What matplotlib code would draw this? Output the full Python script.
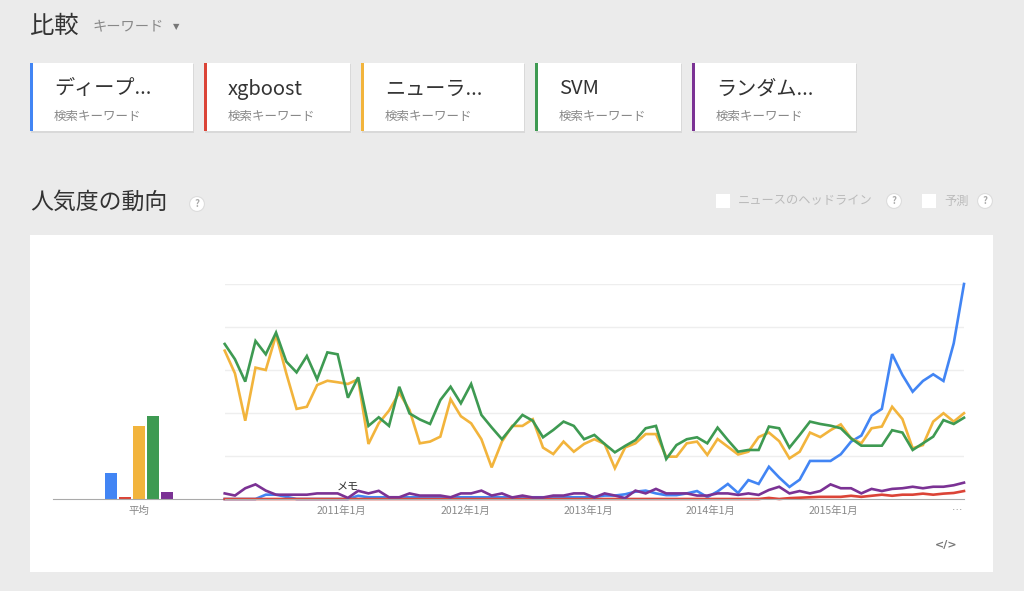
import numpy as np
import matplotlib.pyplot as plt
from matplotlib.patches import Rectangle

plt.rcParams['font.family'] = ['Noto Sans CJK JP', 'DejaVu Sans']

W, H = 1024, 591

# --- data (monthly, 2010-01 .. 2016-01) ---
terms = ["ディープ...", "xgboost", "ニューラ...", "SVM", "ランダム..."]
colors = ["#4285f4", "#db4437", "#f2b43c", "#3e9a52", "#7b3294"]
averages = [12.1, 0.7, 34.0, 38.4, 3.3]

deep = [0, 0, 0, 0, 2, 2, 1, 0, 0, 0, 0, 0, 0, 1.5, 0.8, 0.8, 0.8, 0.8, 0.8, 0.8,
        0.8, 0.8, 0.8, 0.8, 0.8, 0.8, 0.8, 0.8, 0.8, 0.8, 0.8, 0.8, 0.8, 0.8, 0.8, 0.8,
        1.0, 1.6, 1.6, 2.2, 3.4, 3.9, 2.6, 1.8, 1.8, 2.6, 3.7, 0.9, 3.5, 7.0, 2.8, 8.8,
        7.0, 15.0, 10.0, 5.6, 9.0, 17.7, 17.7, 17.7, 20.8, 26.7, 29.5, 38.8, 41.9, 67.4,
        57.7, 49.9, 54.9, 58.0, 54.9, 72.4, 100]
xgb = [0] * 53 + [0.5, 0, 0.4, 0.6, 0.8, 1.0, 1.0, 1.0, 1.5, 1.0, 1.5, 2.0, 1.5, 2.0,
                  2.0, 2.5, 2.0, 2.5, 2.8, 3.7]
neural = [69, 58.4, 36.4, 61.1, 60, 76.3, 58.4, 41.9, 42.9, 53, 55, 54.3, 53.5, 55.7,
          25.6, 35.2, 41.1, 49.4, 41.4, 25.9, 26.7, 29, 46.4, 38.5, 35.2, 27.8, 14.7,
          26.7, 34, 34, 37.1, 23.9, 20.9, 26.7, 22, 25.6, 27.8, 25.6, 14.3, 24, 25.9,
          30.2, 30.2, 19.7, 19.7, 25.9, 26.7, 20.5, 27.9, 24.3, 20.7, 22, 28.8, 30.9,
          26.9, 18.9, 22, 30.9, 28.8, 32, 34.7, 28.2, 25.9, 32.9, 33.7, 42.9, 37.2,
          23.6, 25.1, 36, 39.9, 36, 39.9]
svm = [72.1, 65, 54.6, 73.5, 67.3, 77.4, 63.9, 58.9, 66.5, 55.7, 68.2, 67.3, 47.1,
       56.6, 34, 38, 34, 52.2, 39.8, 37, 34.9, 46, 52.2, 44.5, 53.5, 39.1, 33.3, 27.8,
       33.6, 39.1, 36.4, 28.7, 32.1, 36, 34, 27.8, 29.8, 25.6, 21.7, 24.7, 27.4, 32.9,
       34, 18.6, 25.1, 27.8, 28.7, 25.9, 33.2, 27.4, 22, 22.8, 22.8, 33.7, 32.9, 23.9,
       29.8, 36, 34.9, 34.1, 32.9, 28.2, 24.8, 24.8, 24.8, 32, 30.9, 22.8, 25.9, 29,
       36.7, 34.9, 37.8]
forest = [2.6, 1.6, 5, 6.8, 3.9, 2, 2, 2, 2, 2.6, 2.6, 2.6, 0.5, 3.8, 2.6, 3.8, 0.8,
          0.8, 2.6, 1.6, 1.6, 1.6, 0.8, 2.6, 2.6, 3.9, 1.6, 2.6, 0.7, 1.6, 0.7, 0.7,
          1.6, 1.6, 2.6, 2.6, 0.7, 2.6, 1.6, 0.4, 3.9, 2.6, 4.7, 2.6, 2.6, 2.6, 1.6,
          1.6, 2.6, 2.6, 1.9, 2.6, 1.9, 4.2, 5.7, 2.6, 3.7, 2.6, 3.7, 6.8, 5, 5, 2.6,
          4.7, 3.7, 4.7, 5, 5.7, 5, 5.7, 5.7, 6.4, 7.6]
series = [deep, xgb, neural, svm, forest]

tick_pos = [11.4, 23.4, 35.4, 47.3, 59.3, 71.3]
tick_labels = ["2011年1月", "2012年1月", "2013年1月", "2014年1月", "2015年1月", "…"]


def fx(px):
    return px / W


def fy(py):
    return 1 - py / H


def box(x0, y_bottom, w, h, c, z=-5):
    # rectangle in pixel units (y_bottom measured from the top of the image)
    fig.patches.append(Rectangle((fx(x0), fy(y_bottom)), fx(w), h / H,
                                 transform=fig.transFigure, fc=c, ec="none",
                                 zorder=z))


fig = plt.figure(figsize=(W / 100, H / 100), dpi=100)
fig.patch.set_facecolor("#ebebeb")

# header
fig.text(fx(30), fy(26), "比較", fontsize=17.5, color="#333333", va="center")
fig.text(fx(92), fy(26), "キーワード", fontsize=10.3, color="#888888", va="center")
fig.text(fx(176), fy(27), "▼", fontsize=6, color="#777777", va="center",
         ha="center", family="DejaVu Sans")

# keyword cards
card_x = [30, 204, 361, 535, 692]
card_w = [163, 146, 163, 146, 164]
for x0, w, t, c in zip(card_x, card_w, terms, colors):
    box(x0 + 1, 133, w, 69, "#d9d9d9", -6)
    box(x0, 131, w, 68, "white")
    box(x0, 131, 3, 68, c, -4)
    fig.text(fx(x0 + 24), fy(89), t, fontsize=14.5, color="#333333", va="center")
    fig.text(fx(x0 + 24), fy(116), "検索キーワード", fontsize=9, color="#888888",
             va="center")

# section title
fig.text(fx(30), fy(202), "人気度の動向", fontsize=16.5, color="#333333", va="center")
qbox = dict(boxstyle="circle,pad=0.25", fc="white", ec="#dddddd", lw=0.8)
fig.text(fx(197), fy(204), "?", fontsize=7, color="#aaaaaa", ha="center",
         va="center", weight="bold", bbox=qbox)

# right-hand options
for bx in [716, 922]:
    box(bx, 208, 14, 14, "white")
fig.text(fx(738), fy(201), "ニュースのヘッドライン", fontsize=8.8, color="#bbbbbb",
         va="center")
fig.text(fx(894), fy(201), "?", fontsize=7, color="#aaaaaa", ha="center",
         va="center", weight="bold", bbox=qbox)
fig.text(fx(944), fy(201), "予測", fontsize=8.8, color="#bbbbbb", va="center")
fig.text(fx(985), fy(201), "?", fontsize=7, color="#aaaaaa", ha="center",
         va="center", weight="bold", bbox=qbox)

# white chart panel
box(30, 572, 963, 337, "white", -10)

# averages bar axes
axb = fig.add_axes([fx(53), fy(499), fx(224 - 53), (499 - 284) / H])
axb.bar(range(5), averages, width=0.9, color=colors)
axb.set_xlim(-4.14, 8.07)
axb.set_ylim(0, 100)
axb.set_yticks([])
axb.set_xticks([2])
axb.set_xticklabels(["平均"], fontsize=7.5, color="#888888")
axb.tick_params(axis="x", length=0, pad=5)
for s in ["top", "left", "right"]:
    axb.spines[s].set_visible(False)
axb.spines["bottom"].set_color("#aaaaaa")
axb.patch.set_alpha(0)

# line axes
ax = fig.add_axes([fx(224.7), fy(499), fx(964 - 224.7), (499 - 284) / H])
x = np.arange(len(deep))
for s, c in zip(series, colors):
    ax.plot(x, s, color=c, lw=1.9, clip_on=False, solid_joinstyle="miter")
ax.set_xlim(0, 72)
ax.set_ylim(0, 100)
ax.set_yticks([20, 40, 60, 80, 100])
ax.set_yticklabels([])
ax.grid(axis="y", color="#eeeeee", lw=1)
ax.set_axisbelow(True)
ax.tick_params(axis="y", length=0)
ax.set_xticks(tick_pos)
ax.set_xticklabels(tick_labels, fontsize=7.5, color="#888888")
ax.tick_params(axis="x", length=0, pad=5)
for s in ["top", "left", "right"]:
    ax.spines[s].set_visible(False)
ax.spines["bottom"].set_color("#aaaaaa")
ax.patch.set_alpha(0)
ax.text(12, 5.6, "メモ", fontsize=8, color="#333333", ha="center", va="center")

fig.text(fx(946), fy(545), "</>", fontsize=8, color="#777777", ha="center",
         va="center", weight="bold", family="DejaVu Sans")

fig.savefig("out.png", dpi=100, facecolor=fig.get_facecolor())
